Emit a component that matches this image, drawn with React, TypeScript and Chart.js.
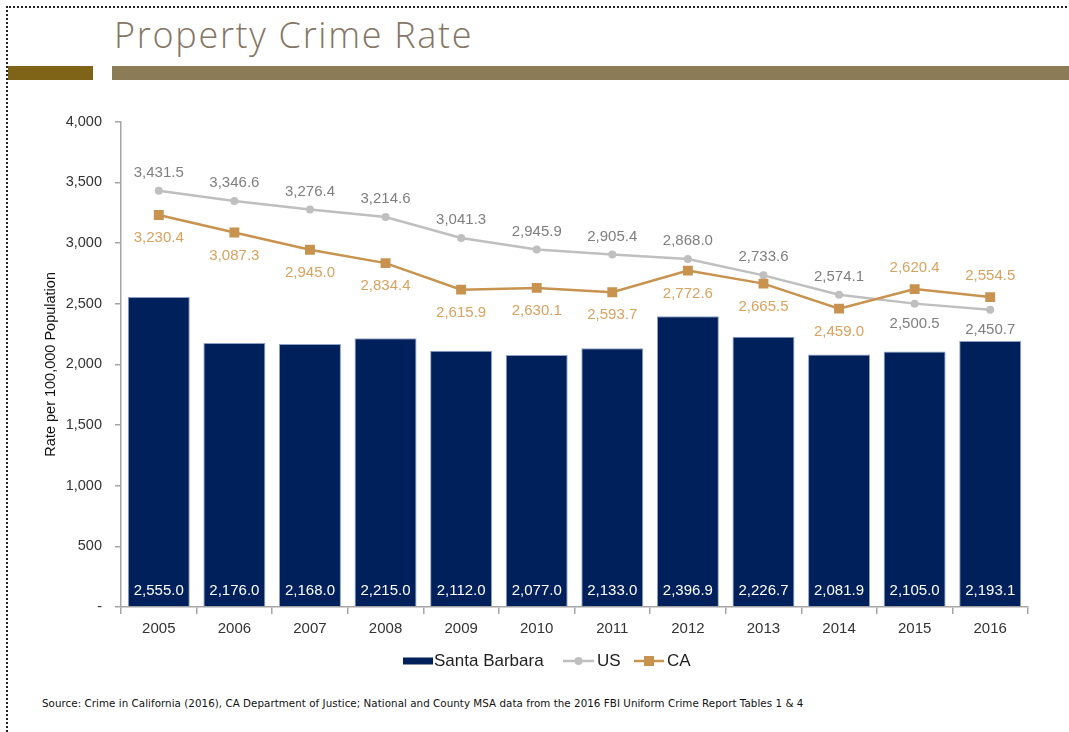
import React, { useEffect, useRef } from "react";
import { Chart, registerables } from "chart.js";

Chart.register(...registerables);

const years = ["2005", "2006", "2007", "2008", "2009", "2010", "2011", "2012", "2013", "2014", "2015", "2016"];
const santaBarbara = [2555.0, 2176.0, 2168.0, 2215.0, 2112.0, 2077.0, 2133.0, 2396.9, 2226.7, 2081.9, 2105.0, 2193.1];
const usRate = [3431.5, 3346.6, 3276.4, 3214.6, 3041.3, 2945.9, 2905.4, 2868.0, 2733.6, 2574.1, 2500.5, 2450.7];
const caRate = [3230.4, 3087.3, 2945.0, 2834.4, 2615.9, 2630.1, 2593.7, 2772.6, 2665.5, 2459.0, 2620.4, 2554.5];
const yTickValues = [0, 500, 1000, 1500, 2000, 2500, 3000, 3500, 4000];

const NAVY = "#00205B";
const GRAY_LINE = "#BFBFBF";
const GRAY_TEXT = "#7F7F7F";
const TAN_LINE = "#C8924F";
const TAN_TEXT = "#D9A25E";
const FONT = "'Liberation Sans', Arial, sans-serif";

const fmt1 = (v: number) =>
  v.toLocaleString("en-US", { minimumFractionDigits: 1, maximumFractionDigits: 1 });

const labelsPlugin = {
  id: "customLabels",
  afterDatasetsDraw(chart: any) {
    const ctx = chart.ctx;
    ctx.save();
    ctx.textAlign = "center";
    ctx.textBaseline = "middle";
    ctx.font = `15px ${FONT}`;
    const barMeta = chart.getDatasetMeta(0);
    barMeta.data.forEach((el: any, i: number) => {
      ctx.fillStyle = "#FFFFFF";
      ctx.fillText(fmt1(santaBarbara[i]), el.x, el.base - 15);
    });
    const usMeta = chart.getDatasetMeta(1);
    usMeta.data.forEach((el: any, i: number) => {
      const above = usRate[i] >= caRate[i];
      ctx.fillStyle = GRAY_TEXT;
      ctx.fillText(fmt1(usRate[i]), el.x, el.y + (above ? -18 : 20));
    });
    const caMeta = chart.getDatasetMeta(2);
    caMeta.data.forEach((el: any, i: number) => {
      const above = caRate[i] > usRate[i];
      ctx.fillStyle = TAN_TEXT;
      ctx.fillText(fmt1(caRate[i]), el.x, el.y + (above ? -21 : 23));
    });
    ctx.restore();
  },
  afterDraw(chart: any) {
    const ctx = chart.ctx;
    const area = chart.chartArea;
    ctx.save();
    ctx.translate(51, (area.top + area.bottom) / 2);
    ctx.rotate(-Math.PI / 2);
    ctx.textAlign = "center";
    ctx.textBaseline = "middle";
    ctx.fillStyle = "#111";
    ctx.font = `14.5px ${FONT}`;
    ctx.fillText("Rate per 100,000 Population", 0, 0);
    ctx.restore();

    ctx.save();
    const ly = 561;
    ctx.font = `17px ${FONT}`;
    ctx.textBaseline = "middle";
    ctx.textAlign = "left";
    ctx.fillStyle = NAVY;
    ctx.fillRect(403, ly - 3.5, 30, 7);
    ctx.fillStyle = "#222";
    ctx.fillText("Santa Barbara", 434, ly);

    ctx.strokeStyle = GRAY_LINE;
    ctx.lineWidth = 2.5;
    ctx.beginPath();
    ctx.moveTo(563, ly);
    ctx.lineTo(594, ly);
    ctx.stroke();
    ctx.fillStyle = GRAY_LINE;
    ctx.beginPath();
    ctx.arc(578.5, ly, 4, 0, Math.PI * 2);
    ctx.fill();
    ctx.fillStyle = "#222";
    ctx.fillText("US", 597, ly);

    ctx.strokeStyle = TAN_LINE;
    ctx.beginPath();
    ctx.moveTo(634, ly);
    ctx.lineTo(664, ly);
    ctx.stroke();
    ctx.fillStyle = TAN_LINE;
    ctx.fillRect(644, ly - 5, 10, 10);
    ctx.fillStyle = "#222";
    ctx.fillText("CA", 667, ly);
    ctx.restore();
  },
};

export default function App() {
  const canvasRef = useRef<HTMLCanvasElement | null>(null);

  useEffect(() => {
    if (!canvasRef.current) return;
    const chart = new Chart(canvasRef.current, {
      type: "bar",
      data: {
        labels: years,
        datasets: [
          {
            type: "bar",
            label: "Santa Barbara",
            data: santaBarbara,
            backgroundColor: NAVY,
            borderColor: "#8EA2C8",
            borderWidth: { top: 1, left: 1, right: 1, bottom: 0 },
            barPercentage: 0.82,
            categoryPercentage: 1,
            order: 3,
          },
          {
            type: "line",
            label: "US",
            data: usRate,
            borderColor: GRAY_LINE,
            backgroundColor: GRAY_LINE,
            borderWidth: 2.5,
            pointStyle: "circle",
            pointRadius: 4,
            pointBorderWidth: 0,
            tension: 0,
            order: 2,
          },
          {
            type: "line",
            label: "CA",
            data: caRate,
            borderColor: TAN_LINE,
            backgroundColor: TAN_LINE,
            borderWidth: 2.5,
            pointStyle: "rect",
            pointRadius: 7,
            pointBorderWidth: 0,
            tension: 0,
            order: 1,
          },
        ] as any,
      },
      options: {
        animation: false,
        responsive: false,
        maintainAspectRatio: false,
        layout: { padding: { left: 0, right: 41, top: 21, bottom: 43 } },
        plugins: {
          legend: { display: false },
          tooltip: { enabled: false },
          title: { display: false },
        },
        scales: {
          x: {
            offset: true,
            grid: {
              display: true,
              drawOnChartArea: false,
              offset: true,
              tickLength: 7,
              color: "#A6A6A6",
              lineWidth: 1.5,
            },
            border: { display: true, color: "#A6A6A6", width: 1.5 },
            ticks: {
              color: "#333",
              font: { family: FONT, size: 15 },
              padding: 6,
            },
            afterFit(scale: any) {
              scale.height = 40;
            },
          },
          y: {
            min: 0,
            max: 4000,
            afterBuildTicks(scale: any) {
              scale.ticks = yTickValues.map((v) => ({ value: v }));
            },
            grid: {
              display: true,
              drawOnChartArea: false,
              tickLength: 6,
              color: "#A6A6A6",
              lineWidth: 1.5,
            },
            border: { display: true, color: "#A6A6A6", width: 1.5 },
            ticks: {
              color: "#333",
              font: { family: FONT, size: 14.5 },
              padding: 13,
              callback: (v: any) => (Number(v) === 0 ? "-" : Number(v).toLocaleString("en-US")),
            },
            afterFit(scale: any) {
              scale.width = 121;
            },
          },
        },
      } as any,
      plugins: [labelsPlugin],
    });
    return () => chart.destroy();
  }, []);

  return (
    <div
      style={{
        position: "fixed",
        left: 0,
        top: 0,
        width: 1069,
        height: 732,
        background: "#fff",
        overflow: "hidden",
      }}
    >
      <div
        style={{
          position: "absolute",
          left: 6,
          top: 6,
          width: 1070,
          height: 740,
          borderTop: "2px dotted #222",
          borderLeft: "2px dotted #222",
        }}
      />
      <div
        style={{
          position: "absolute",
          left: 114,
          top: 12,
          fontFamily: "'Open Sans', " + FONT,
          fontWeight: 300,
          fontSize: 36,
          letterSpacing: "1.7px",
          color: "#857565",
          lineHeight: "46px",
          whiteSpace: "nowrap",
        }}
      >
        Property Crime Rate
      </div>
      <div style={{ position: "absolute", left: 8, top: 66, width: 85, height: 14, background: "#7F6418" }} />
      <div style={{ position: "absolute", left: 112, top: 66, width: 960, height: 14, background: "#8B7B56" }} />
      <canvas
        ref={canvasRef}
        width={1069}
        height={590}
        style={{ position: "absolute", left: 0, top: 100, width: 1069, height: 590 }}
      />
      <div
        style={{
          position: "absolute",
          left: 42,
          top: 697,
          fontFamily: "'DejaVu Sans', " + FONT,
          fontSize: 10.3,
          letterSpacing: "0.05px",
          color: "#111",
          whiteSpace: "nowrap",
        }}
      >
        Source: Crime in California (2016), CA Department of Justice; National and County MSA data from the 2016 FBI Uniform Crime Report Tables 1 &amp; 4
      </div>
    </div>
  );
}
